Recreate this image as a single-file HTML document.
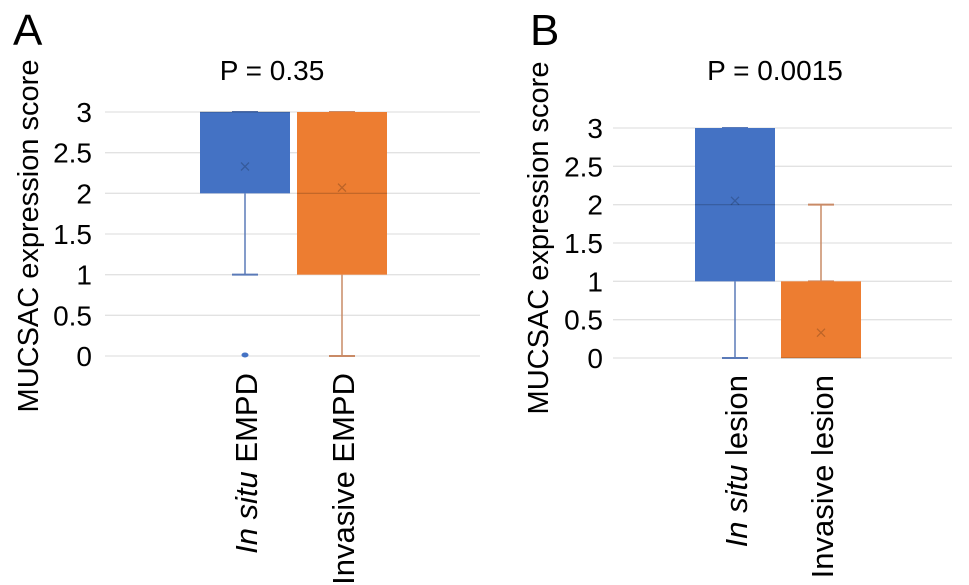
<!DOCTYPE html>
<html><head><meta charset="utf-8">
<style>
html,body{margin:0;padding:0;background:#fff;}
svg{display:block;font-family:"Liberation Sans",Arial,sans-serif;}
</style></head>
<body>
<svg id="chart" width="969" height="585" viewBox="0 0 969 585" xmlns="http://www.w3.org/2000/svg"></svg>
<script>
const yTicks = [0, 0.5, 1, 1.5, 2, 2.5, 3];
const tickLabels = ["0", "0.5", "1", "1.5", "2", "2.5", "3"];
// Panel A
const catsA = ["In situ EMPD", "Invasive EMPD"];
const q1A = [2, 1];
const q3A = [3, 3];
const medA = [3, 2];
const meanA = [2.33, 2.07];
const wloA = [1, 0];
const whiA = [3, 3];
const outA = [[0], []];
// Panel B
const catsB = ["In situ lesion", "Invasive lesion"];
const q1B = [1, 0];
const q3B = [3, 1];
const medB = [2, 0];
const meanB = [2.05, 0.33];
const wloB = [0, 1];
const whiB = [3, 2];
const outB = [[], []];
const pvals = ["P = 0.35", "P = 0.0015"];
const colors = ["#4472c4", "#ed7d31"];
const whiskColors = ["#5a7ab8", "#c98a66"];

const svg = document.getElementById('chart');
const NS = 'http://www.w3.org/2000/svg';
function mk(tag, attrs, parent){const e=document.createElementNS(NS,tag);for(const k in attrs)e.setAttribute(k,attrs[k]);(parent||svg).appendChild(e);return e;}

function panel(cfg){
  const g = mk('g',{});
  
  
  const y = v => cfg.y0 + (cfg.y3 - cfg.y0) * v / 3;
  const x = i => cfg.cx[i];
  const L = mk('text',{x:cfg.letterX,y:45,'font-size':44,fill:'#000'},g);
  L.textContent = cfg.letter;
  
  
  const t = mk('text',{x:cfg.titleX,y:80,'font-size':28,'text-anchor':'middle',fill:'#000'},g);
  t.textContent = cfg.p;
  
  
  const yt = mk('text',{x:0,y:0,'font-size':29,'text-anchor':'middle',fill:'#000',transform:`translate(${cfg.ytX},${cfg.ytY}) rotate(-90)`},g);
  yt.textContent = 'MUCSAC expression score';
  
  
  yTicks.forEach((v,i)=>{
    const gl = mk('line',{x1:cfg.gx1,x2:cfg.gx2,y1:y(v),y2:y(v),stroke:'#e2e2e2','stroke-width':1.3},g);
    
    
    const tl = mk('text',{x:cfg.tickX,y:y(v)+10,'font-size':28,'text-anchor':'end',fill:'#000'},g);
    tl.textContent = tickLabels[i];
    
    
  });
  cfg.cats.forEach((c,i)=>{
    const cx = x(i), hw = cfg.hw, cap = 13;
    const wl = mk('line',{x1:cx,x2:cx,y1:y(cfg.wlo[i]),y2:y(cfg.q1[i]),stroke:whiskColors[i],'stroke-width':1.5},g);
    
    
    const wc = mk('line',{x1:cx-cap,x2:cx+cap,y1:y(cfg.wlo[i]),y2:y(cfg.wlo[i]),stroke:whiskColors[i],'stroke-width':2},g);
    
    
    const wh = mk('line',{x1:cx,x2:cx,y1:y(cfg.whi[i]),y2:y(cfg.q3[i]),stroke:whiskColors[i],'stroke-width':1.5},g);
    
    
    const wc2 = mk('line',{x1:cx-cap,x2:cx+cap,y1:y(cfg.whi[i]),y2:y(cfg.whi[i]),stroke:whiskColors[i],'stroke-width':2},g);
    
    
    const b = mk('rect',{x:cx-hw,y:y(cfg.q3[i]),width:2*hw,height:y(cfg.q1[i])-y(cfg.q3[i]),fill:colors[i]},g);
    
    
    const m = mk('line',{x1:cx-hw,x2:cx+hw,y1:y(cfg.med[i]),y2:y(cfg.med[i]),stroke:'rgba(0,0,0,0.2)','stroke-width':1.2},g);
    
    
    const my = y(cfg.mean[i]);
    const mm = mk('path',{d:`M${cx-4},${my-4}L${cx+4},${my+4}M${cx-4},${my+4}L${cx+4},${my-4}`,stroke:'rgba(0,0,0,0.2)','stroke-width':1.3},g);
    
    
    cfg.out[i].forEach(v=>{
      const o = mk('ellipse',{cx:cx,cy:y(v)-1,rx:3.5,ry:2.5,fill:colors[i]},g);
      
      
    });
    const parts = c.split(' ');
    const lbl = mk('text',{x:0,y:0,'font-size':31,'text-anchor':'end',fill:'#000',transform:`translate(${cx+12},${cfg.y0+17}) rotate(-90)`},g);
    
    
    if(i===0){
      const it = mk('tspan',{'font-style':'italic'},lbl); it.textContent = parts[0]+' '+parts[1];
      const rest = mk('tspan',{},lbl); rest.textContent = ' '+parts.slice(2).join(' ');
    } else lbl.textContent = c;
  });
}
panel({letter:'A',letterX:13,p:pvals[0],titleX:272,ytX:38,ytY:236,tickX:92,gx1:105,gx2:480,
  y0:356,y3:112,cx:[245,342],hw:45,cats:catsA,q1:q1A,q3:q3A,med:medA,mean:meanA,wlo:wloA,whi:whiA,out:outA});
panel({letter:'B',letterX:530,p:pvals[1],titleX:775,ytX:548,ytY:238,tickX:603,gx1:613,gx2:952,
  y0:358,y3:128,cx:[735,821],hw:40,cats:catsB,q1:q1B,q3:q3B,med:medB,mean:meanB,wlo:wloB,whi:whiB,out:outB});
</script>
</body></html>
